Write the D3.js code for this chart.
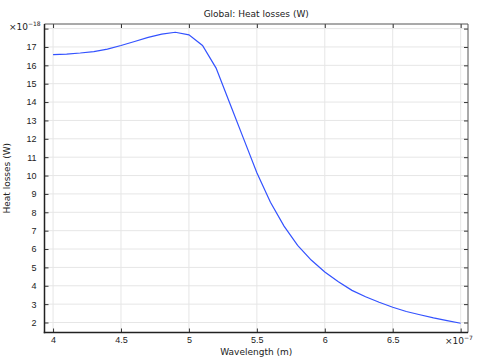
<!DOCTYPE html>
<html>
<head>
<meta charset="utf-8">
<script src="https://cdn.jsdelivr.net/npm/d3@7"></script>
<style>
  body { margin: 0; background: #fff; }
  svg { display: block; font-family: "DejaVu Sans", sans-serif; }
</style>
</head>
<body>
<div id="chart"></div>
<script>
// wavelength in units of 1e-7 m
const wavelength = [4.0, 4.1, 4.2, 4.3, 4.4, 4.5, 4.6, 4.7, 4.8, 4.9,
  5.0, 5.1, 5.2, 5.3, 5.4, 5.5, 5.6, 5.7, 5.8, 5.9,
  6.0, 6.1, 6.2, 6.3, 6.4, 6.5, 6.6, 6.7, 6.8, 6.9, 7.0];
// heat losses in units of 1e-18 W
const heatLoss = [16.58, 16.61, 16.67, 16.75, 16.88, 17.08, 17.3, 17.52, 17.7, 17.8,
  17.66, 17.08, 15.85, 13.95, 12.05, 10.15, 8.55, 7.25, 6.2, 5.4,
  4.75, 4.22, 3.75, 3.4, 3.1, 2.83, 2.6, 2.42, 2.25, 2.1, 1.96];
const xTicks = [4, 4.5, 5, 5.5, 6, 6.5, 7];
const xTickLabels = ['4', '4.5', '5', '5.5', '6', '6.5', ''];
const yTicks = d3.range(2, 19);

const width = 477, height = 359;
const plot = { left: 44.5, top: 24, right: 468, bottom: 332.5 };

const svg = d3.select('#chart').append('svg')
  .attr('width', width)
  .attr('height', height);

const x = d3.scaleLinear()
  .domain([3.937, 7.054])
  .range([plot.left, plot.right]);
const y = d3.scaleLinear()
  .domain([1.456, 18.25])
  .range([plot.bottom, plot.top]);

// grid
const grid = svg.append('g');
grid.selectAll('.vg').data(xTicks).join('line')
  .attr('x1', d => x(d)).attr('x2', d => x(d))
  .attr('y1', plot.top).attr('y2', plot.bottom)
  .attr('stroke', '#e6e6e6').attr('stroke-width', 1);
grid.selectAll('.hg').data(yTicks).join('line')
  .attr('y1', d => y(d)).attr('y2', d => y(d))
  .attr('x1', plot.left).attr('x2', plot.right)
  .attr('stroke', '#e6e6e6').attr('stroke-width', 1);

// axes, ticks pointing inward
const xAxisCall = d3.axisBottom(x).tickValues(xTicks)
  .tickSize(-4).tickPadding(4)
  .tickFormat((d, i) => xTickLabels[i]);
const xAxisTop = d3.axisTop(x).tickValues(xTicks)
  .tickSize(-4).tickFormat('');
const yAxisCall = d3.axisLeft(y).tickValues(yTicks)
  .tickSize(-4).tickPadding(8)
  .tickFormat(d => d === 18 ? '' : d);
const yAxisRight = d3.axisRight(y).tickValues(yTicks)
  .tickSize(-4).tickFormat('');

function styleAxis(g) {
  g.select('.domain').remove();
  g.selectAll('.tick line').attr('stroke', '#333');
  g.selectAll('.tick text').attr('fill', '#222').style('font-size', '9px');
}

svg.append('g').attr('transform', `translate(0,${plot.bottom})`).call(xAxisCall).call(styleAxis);
svg.append('g').attr('transform', `translate(0,${plot.top})`).call(xAxisTop).call(styleAxis);
svg.append('g').attr('transform', `translate(${plot.left},0)`).call(yAxisCall).call(styleAxis);
svg.append('g').attr('transform', `translate(${plot.right},0)`).call(yAxisRight).call(styleAxis);

// frame
svg.append('line')
  .attr('x1', plot.left).attr('x2', plot.right)
  .attr('y1', plot.top).attr('y2', plot.top)
  .attr('stroke', '#555').attr('stroke-width', 1);
svg.append('line')
  .attr('x1', plot.right).attr('x2', plot.right)
  .attr('y1', plot.top).attr('y2', plot.bottom)
  .attr('stroke', '#555').attr('stroke-width', 1);
svg.append('line')
  .attr('x1', plot.left).attr('x2', plot.left)
  .attr('y1', plot.top).attr('y2', plot.bottom + 0.75)
  .attr('stroke', '#222').attr('stroke-width', 1.5);
svg.append('line')
  .attr('x1', plot.left - 0.75).attr('x2', plot.right)
  .attr('y1', plot.bottom).attr('y2', plot.bottom)
  .attr('stroke', '#222').attr('stroke-width', 1.5);

// curve
const line = d3.line()
  .x((d, i) => x(wavelength[i]))
  .y(d => y(d));
svg.append('path')
  .datum(heatLoss)
  .attr('d', line)
  .attr('fill', 'none')
  .attr('stroke', '#3352ff')
  .attr('stroke-width', 1.2);

// labels
svg.append('text')
  .attr('x', (plot.left + plot.right) / 2).attr('y', 17)
  .attr('text-anchor', 'middle')
  .style('font-size', '9px').attr('fill', '#222')
  .text('Global: Heat losses (W)');

svg.append('text')
  .attr('x', (plot.left + plot.right) / 2).attr('y', 355)
  .attr('text-anchor', 'middle')
  .style('font-size', '9px').attr('fill', '#222')
  .text('Wavelength (m)');

svg.append('text')
  .attr('transform', `translate(10,${(plot.top + plot.bottom) / 2}) rotate(-90)`)
  .attr('text-anchor', 'middle')
  .style('font-size', '9px').attr('fill', '#222')
  .text('Heat losses (W)');

const yExp = svg.append('text')
  .attr('x', 9).attr('y', 30)
  .style('font-size', '9px').attr('fill', '#222');
yExp.append('tspan').text('×10');
yExp.append('tspan').attr('dy', -4).style('font-size', '6px').text('−18');

const xExp = svg.append('text')
  .attr('x', 445).attr('y', 344)
  .style('font-size', '9px').attr('fill', '#222');
xExp.append('tspan').text('×10');
xExp.append('tspan').attr('dy', -4).style('font-size', '6px').text('−7');
</script>
</body>
</html>
